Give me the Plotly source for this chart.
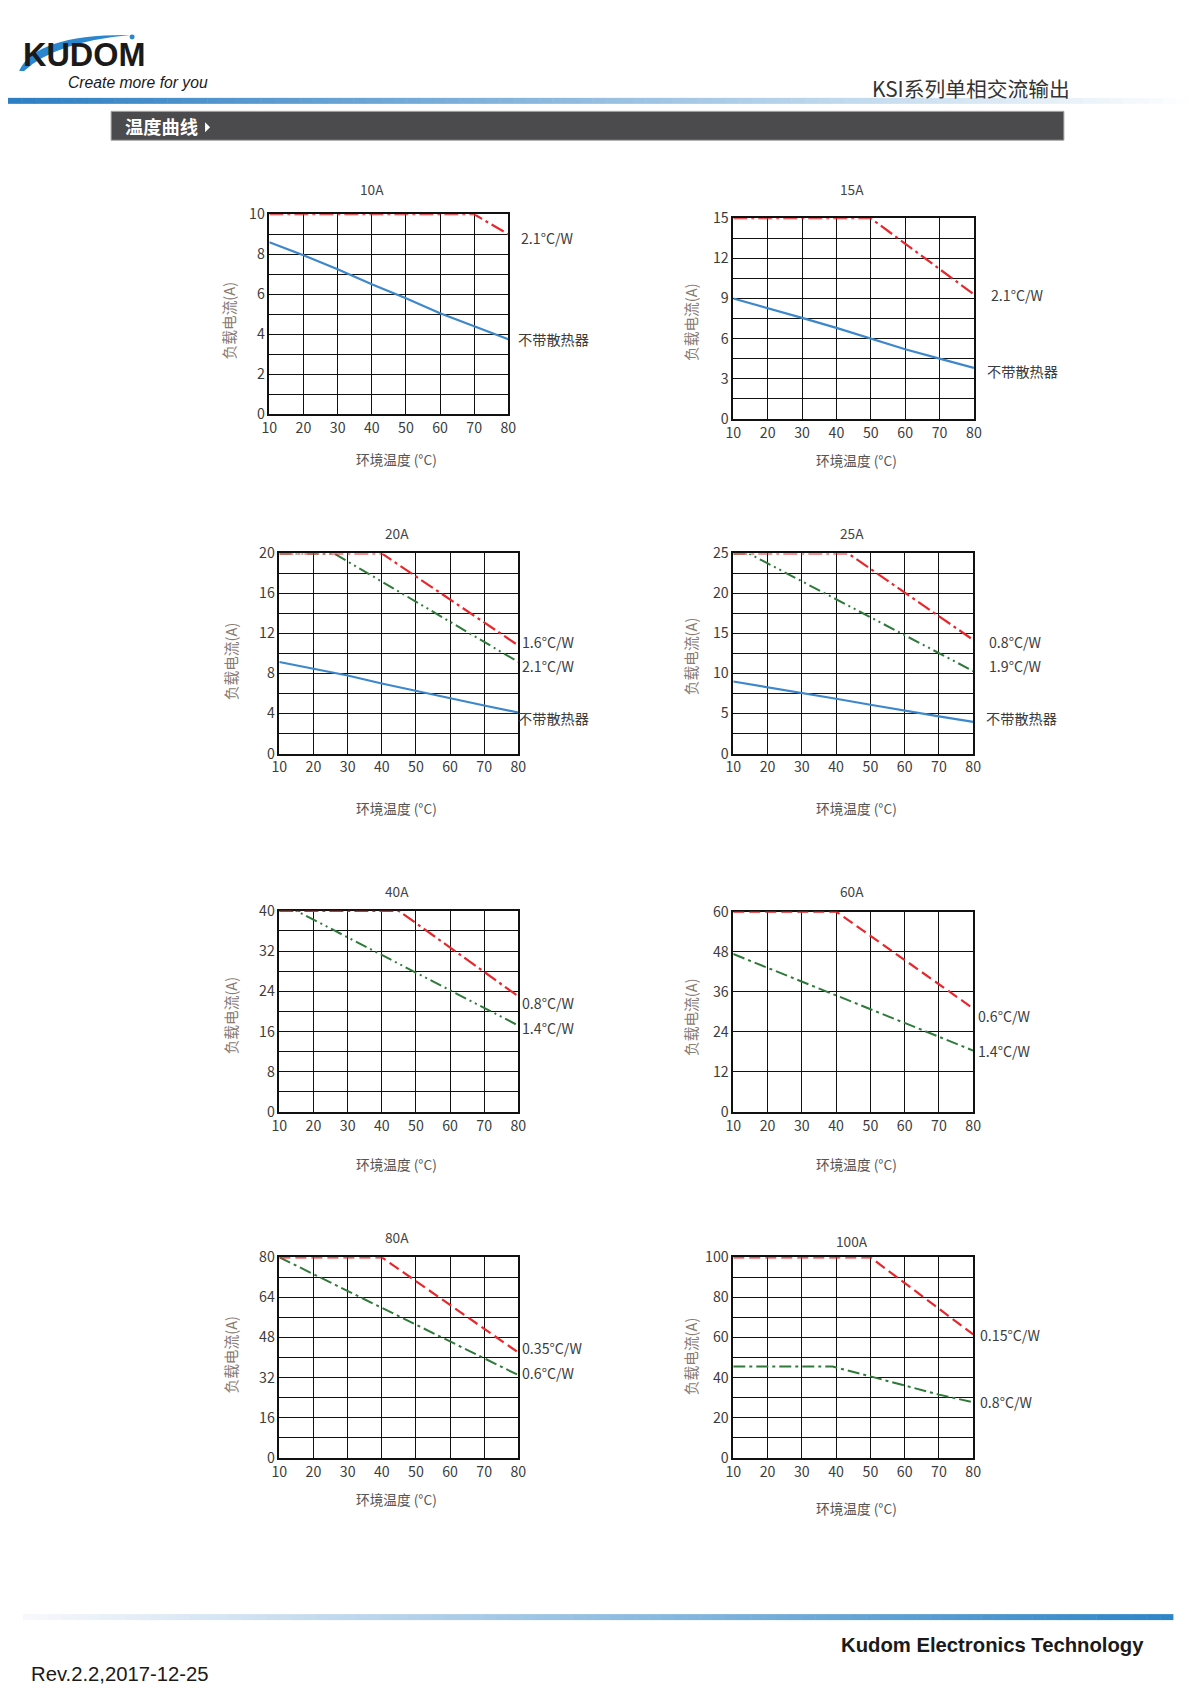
import plotly.graph_objects as go

W, H = 1203, 1702
# the capture shows the page with an 8px body inset, fitted back into W x H
OFF = 8
SX = (W + 2 * OFF) / W
SY = (H + 2 * OFF) / H

# ---------------- data ----------------
temps = [10, 20, 30, 40, 50, 60, 70, 80]

a10_red_x = [10, 70, 80];   a10_red_y = [10, 10, 9.0]
a10_blue_y = [8.6, 7.95, 7.25, 6.5, 5.8, 5.05, 4.4, 3.75]

a15_red_x = [10, 50, 80];   a15_red_y = [15, 15, 9.3]
a15_blue_y = [9.0, 8.3, 7.55, 6.8, 6.0, 5.2, 4.5, 3.8]

a20_red_x = [10, 40, 80];   a20_red_y = [20, 20, 10.8]
a20_green_x = [10, 26, 80]; a20_green_y = [20, 20, 9.15]
a20_blue_y = [9.15, 8.5, 7.8, 7.0, 6.25, 5.55, 4.8, 4.1]

a25_red_x = [10, 43.5, 80]; a25_red_y = [25, 25, 14.2]
a25_green_x = [10, 14.5, 80]; a25_green_y = [25, 25, 10.3]
a25_blue_y = [9.0, 8.3, 7.6, 6.85, 6.1, 5.35, 4.65, 3.95]

a40_red_x = [10, 45, 80];   a40_red_y = [40, 40, 23.0]
a40_green_x = [10, 15, 80]; a40_green_y = [40, 40, 17.2]

a60_red_x = [10, 40, 80];   a60_red_y = [60, 60, 31.0]
a60_green_x = [10, 80];     a60_green_y = [47.3, 18.4]

a80_red_x = [10, 40, 80];   a80_red_y = [80, 80, 42.0]
a80_green_x = [10, 80];     a80_green_y = [80, 33.0]

a100_red_x = [10, 50, 80];  a100_red_y = [100, 100, 61.5]
a100_green_x = [10, 39, 50, 60, 70, 80]; a100_green_y = [45.5, 45.5, 40.6, 36.0, 31.5, 27.7]

titles = ["10A", "15A", "20A", "25A", "40A", "60A", "80A", "100A"]
y_max = [10, 15, 20, 25, 40, 60, 80, 100]
y_grid_step = [1, 1.5, 2, 2.5, 4, 12, 8, 10]
y_label_step = [2, 3, 4, 5, 8, 12, 16, 20]
label_red = ["2.1°C/W", "2.1°C/W", "1.6°C/W", "0.8°C/W", "0.8°C/W", "0.6°C/W", "0.35°C/W", "0.15°C/W"]
label_green = [None, None, "2.1°C/W", "1.9°C/W", "1.4°C/W", "1.4°C/W", "0.6°C/W", "0.8°C/W"]
label_blue = "不带散热器"
y_title = "负载电流(A)"
x_title = "环境温度 (°C)"

# ---------------- layout (page pixel boxes) ----------------
boxes = [  # L, R, T, B
    (269.3, 508.3, 211.7, 412.3),
    (733.3, 974.0, 215.7, 416.7),
    (279.3, 518.3, 551.7, 752.3),
    (733.3, 973.3, 551.7, 752.3),
    (279.3, 518.3, 910.0, 1111.7),
    (733.3, 973.3, 910.7, 1111.7),
    (279.3, 518.3, 1257.3, 1458.3),
    (733.3, 973.3, 1257.3, 1458.3),
]
title_pos = [(371.7, 186.7), (851.7, 186.7), (397, 531), (851.7, 531),
             (397.3, 890), (851.7, 890), (397.3, 1236.7), (851.7, 1241)]
ytitle_pos = [(228, 318), (690.7, 320), (230.7, 660), (690.7, 655),
              (230.7, 1015), (690.7, 1016.7), (230.7, 1355), (690.7, 1356.7)]
xtitle_pos = [(396.7, 457), (856.7, 458), (396.7, 806.7), (856.7, 806.7),
              (396.7, 1163.3), (856.7, 1163.3), (396.7, 1500), (856.7, 1508.3)]
red_lab_pos = [(519.7, 235.7), (989.7, 292.3), (520.7, 640), (988, 640),
               (520.7, 1002.7), (977.3, 1015), (520.7, 1348.3), (978.7, 1335)]
green_lab_pos = [None, None, (520.7, 665), (988, 665),
                 (520.7, 1027.7), (977.3, 1050), (520.7, 1373.3), (978.7, 1402.7)]
blue_lab_pos = [(517, 336.7), (986.3, 369), (517.3, 716.7), (985.3, 716.7)]

RED = "#e8262b"
GREEN = "#2f7a3a"
BLUE = "#3d87cc"
DASHDOT = "14px,4px,3px,4px"
DASHDOTDOT = "12px,4px,2px,4px,2px,4px"
DASH = "11px,5px"
GDASHDOT = "12px,4px,3px,4px"
FONT = "Noto Sans CJK SC"

red_series = [(a10_red_x, a10_red_y), (a15_red_x, a15_red_y), (a20_red_x, a20_red_y),
              (a25_red_x, a25_red_y), (a40_red_x, a40_red_y), (a60_red_x, a60_red_y),
              (a80_red_x, a80_red_y), (a100_red_x, a100_red_y)]
green_series = [None, None, (a20_green_x, a20_green_y), (a25_green_x, a25_green_y),
                (a40_green_x, a40_green_y), (a60_green_x, a60_green_y),
                (a80_green_x, a80_green_y), (a100_green_x, a100_green_y)]
blue_series = [a10_blue_y, a15_blue_y, a20_blue_y, a25_blue_y]
red_dash = [DASHDOT] * 5 + [DASH] * 3
green_dash = [None, None, DASHDOTDOT, DASHDOTDOT, DASHDOTDOT, GDASHDOT, GDASHDOT, GDASHDOT]


def px(x):
    return (x * SX - OFF) / W


def py(y):
    return 1 - (y * SY - OFF) / H


def fs(s):
    return round(s * SX, 2)


fig = go.Figure()
annotations = []
shapes = []

for i in range(8):
    n = i + 1
    xa = "x" if n == 1 else f"x{n}"
    ya = "y" if n == 1 else f"y{n}"
    L, R, T, B = boxes[i]
    if i < 4:
        fig.add_trace(go.Scatter(x=temps, y=blue_series[i], mode="lines", xaxis=xa, yaxis=ya,
                                 line=dict(color=BLUE, width=2.2), showlegend=False, hoverinfo="skip"))
    if green_series[i] is not None:
        gx, gy = green_series[i]
        fig.add_trace(go.Scatter(x=gx, y=gy, mode="lines", xaxis=xa, yaxis=ya,
                                 line=dict(color=GREEN, width=2, dash=green_dash[i]),
                                 showlegend=False, hoverinfo="skip"))
    rx, ry = red_series[i]
    fig.add_trace(go.Scatter(x=rx, y=ry, mode="lines", xaxis=xa, yaxis=ya,
                             line=dict(color=RED, width=2.2, dash=red_dash[i]),
                             showlegend=False, hoverinfo="skip"))
    nsteps = int(round(y_max[i] / y_grid_step[i]))
    yt = [round(k * y_grid_step[i], 3) for k in range(nsteps + 1)]
    ytt = []
    for v in yt:
        r = v / y_label_step[i]
        ytt.append(str(int(v)) if abs(r - round(r)) < 1e-6 else "")
    xkey = "xaxis" if n == 1 else f"xaxis{n}"
    ykey = "yaxis" if n == 1 else f"yaxis{n}"
    fig.layout[xkey] = dict(domain=[px(L), px(R)], anchor=ya, range=[10, 80],
                            tickvals=temps, ticktext=[str(t) for t in temps],
                            showgrid=True, gridcolor="#111", gridwidth=1.3,
                            showline=True, mirror=True, linecolor="#111", linewidth=1.5,
                            zeroline=False, ticks="", layer="below traces",
                            tickfont=dict(family=FONT, size=fs(14), color="#3c3c3c"))
    fig.layout[ykey] = dict(domain=[py(B), py(T)], anchor=xa, range=[0, y_max[i]],
                            tickvals=yt, ticktext=ytt,
                            showgrid=True, gridcolor="#111", gridwidth=1.3,
                            showline=True, mirror=True, linecolor="#111", linewidth=1.5,
                            zeroline=False, ticks="", layer="below traces",
                            tickfont=dict(family=FONT, size=fs(14), color="#3c3c3c"))
    tx, ty = title_pos[i]
    annotations.append(dict(text=titles[i], x=px(tx), y=py(ty), xref="paper", yref="paper",
                            showarrow=False, xanchor="center", yanchor="middle",
                            font=dict(family=FONT, size=fs(13.5), color="#444")))
    tx, ty = ytitle_pos[i]
    annotations.append(dict(text=y_title, x=px(tx), y=py(ty), xref="paper", yref="paper",
                            showarrow=False, xanchor="center", yanchor="middle", textangle=-90,
                            font=dict(family=FONT, size=fs(14.5), color="#8a7a72")))
    tx, ty = xtitle_pos[i]
    annotations.append(dict(text=x_title, x=px(tx), y=py(ty), xref="paper", yref="paper",
                            showarrow=False, xanchor="center", yanchor="middle",
                            font=dict(family=FONT, size=fs(13.5), color="#555")))
    tx, ty = red_lab_pos[i]
    annotations.append(dict(text=label_red[i], x=px(tx), y=py(ty), xref="paper", yref="paper",
                            showarrow=False, xanchor="left", yanchor="middle", borderpad=0,
                            font=dict(family=FONT, size=fs(14), color="#3c3c3c")))
    if label_green[i]:
        tx, ty = green_lab_pos[i]
        annotations.append(dict(text=label_green[i], x=px(tx), y=py(ty), xref="paper", yref="paper",
                                showarrow=False, xanchor="left", yanchor="middle", borderpad=0,
                                font=dict(family=FONT, size=fs(14), color="#3c3c3c")))
    if i < 4:
        tx, ty = blue_lab_pos[i]
        annotations.append(dict(text=label_blue, x=px(tx), y=py(ty), xref="paper", yref="paper",
                                showarrow=False, xanchor="left", yanchor="middle", borderpad=0,
                                font=dict(family=FONT, size=fs(14), color="#3c3c3c")))


# ---------------- page decoration ----------------
def hexrgb(h):
    h = h.lstrip("#")
    return tuple(int(h[k:k + 2], 16) for k in (0, 2, 4))


def grad(x0, x1, y0, y1, c0, c1, n=90):
    a, b = hexrgb(c0), hexrgb(c1)
    for k in range(n):
        t = k / (n - 1)
        c = tuple(int(round(a[j] + (b[j] - a[j]) * t)) for j in range(3))
        shapes.append(dict(type="rect", xref="paper", yref="paper",
                           x0=px(x0 + (x1 - x0) * k / n), x1=px(x0 + (x1 - x0) * (k + 1) / n + 0.5),
                           y0=py(y1), y1=py(y0), line=dict(width=0),
                           fillcolor=f"rgb({c[0]},{c[1]},{c[2]})", layer="below"))


grad(7.9, W, 95, 101, "#2d7fc3", "#ffffff")
grad(23, 1173, 1615, 1621, "#f7f8fc", "#2d85c7")

# section header bar
shapes.append(dict(type="rect", xref="paper", yref="paper", x0=px(111), x1=px(1064),
                   y0=py(137.5), y1=py(108.5), fillcolor="#4b4b4d", line=dict(color="#a8a8a8", width=1)))
shapes.append(dict(type="path", xref="paper", yref="paper",
                   path=f"M {px(205)},{py(119.5)} L {px(210)},{py(124.5)} L {px(205)},{py(129.5)} Z",
                   fillcolor="white", line=dict(width=0)))
annotations.append(dict(text="<b>温度曲线</b>", x=px(123), y=py(123.5), xref="paper", yref="paper",
                        showarrow=False, xanchor="left", yanchor="middle",
                        font=dict(family=FONT, size=fs(18), color="white")))

annotations.append(dict(text="KSI系列单相交流输出", x=px(870), y=py(85.5), xref="paper", yref="paper",
                        showarrow=False, xanchor="left", yanchor="middle",
                        font=dict(family=FONT, size=fs(20.5), color="#333")))

# logo
annotations.append(dict(text="<b>KUDOM</b>", x=px(22), y=py(52), xref="paper", yref="paper",
                        showarrow=False, xanchor="left", yanchor="middle", borderpad=0,
                        font=dict(family="Liberation Sans", size=fs(32), color="#1a1a1a")))
shapes.append(dict(type="path", xref="paper", yref="paper",
                   path=(f"M {px(19)},{py(68)} Q {px(36)},{py(31)} {px(130)},{py(32)} "
                         f"Q {px(55)},{py(39)} {px(24)},{py(68)} Z"),
                   fillcolor="#2a86cf", line=dict(width=0)))
shapes.append(dict(type="circle", xref="paper", yref="paper", x0=px(129.5), x1=px(134.5),
                   y0=py(36.5), y1=py(31.5), fillcolor="#2a86cf", line=dict(width=0)))
annotations.append(dict(text="<i>Create more for you</i>", x=px(67), y=py(79.5), xref="paper", yref="paper",
                        showarrow=False, xanchor="left", yanchor="middle", borderpad=0,
                        font=dict(family="Liberation Sans", size=fs(15.5), color="#1a1a1a")))

# footer
annotations.append(dict(text="<b>Kudom Electronics Technology</b>", x=px(1146), y=py(1646), xref="paper",
                        yref="paper", showarrow=False, xanchor="right", yanchor="middle",
                        font=dict(family="Liberation Sans", size=fs(20), color="#1a1a1a")))
annotations.append(dict(text="Rev.2.2,2017-12-25", x=px(29), y=py(1675), xref="paper",
                        yref="paper", showarrow=False, xanchor="left", yanchor="middle",
                        font=dict(family="Liberation Sans", size=fs(20), color="#1a1a1a")))

fig.update_layout(width=W, height=H, margin=dict(l=0, r=0, t=0, b=0),
                  paper_bgcolor="white", plot_bgcolor="white",
                  annotations=annotations, shapes=shapes, showlegend=False)

fig.write_html("out.html")
